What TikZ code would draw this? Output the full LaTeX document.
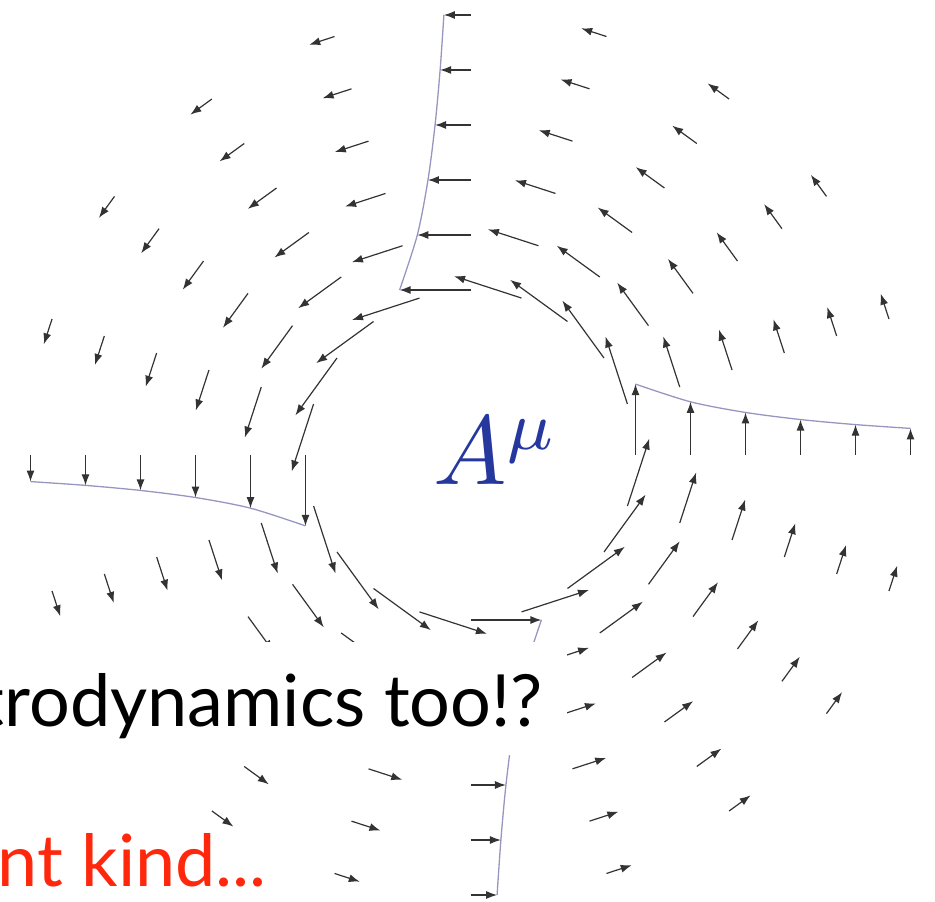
\documentclass[tikz,border=0pt]{standalone}
\usepackage{fontspec}
\setmainfont{Lato}
\usepackage{xcolor}
\usetikzlibrary{arrows.meta,calc}

\definecolor{cutline}{RGB}{150,150,192}
\definecolor{labelblue}{RGB}{38,56,158}
\definecolor{slidered}{RGB}{255,40,12}

\begin{document}
\begin{tikzpicture}[
    x=1pt, y=1pt,
    vec/.style={-{Latex[length=11pt,width=8pt]}, line width=1.2pt, black!80},
    cut/.style={line width=1.3pt, cutline},
    slide/.style={font=\fontsize{72}{86}\selectfont, anchor=base east, inner sep=0pt},
]
\useasboundingbox (0,0) rectangle (935,902);
\clip (0,0) rectangle (935,902);
\coordinate (c) at (470.5,447);

% Field points: 20 columns, each turned 18 degrees
\foreach \i in {0,...,19}
  \foreach \m in {0,...,5} {
    \pgfmathsetmacro\R{165+55*\m}
    \pgfmathsetmacro\L{11700/\R}
    \coordinate (t-\i-\m) at ($(c)+({90-18*\i}:\R)$);
    \coordinate (h-\i-\m) at ($(t-\i-\m)+({180-18*\i}:\L)$);
  }

% Cuts
\foreach \i in {0,5,10,15}
  \draw[cut] plot[smooth] coordinates {(h-\i-0) (h-\i-1) (h-\i-2) (h-\i-3) (h-\i-4) (h-\i-5)};

% Arrows
\foreach \i in {0,...,19}
  \foreach \m in {0,...,5}
    \draw[vec] (t-\i-\m) -- (h-\i-\m);

\node[anchor=base west, inner sep=0pt, text=labelblue] (amu) at (433,417) {\scalebox{9.8}{$A^{\mu}$}};

% Slide text
\fill[white] (0,147) rectangle (567,260);
\node[slide] (line1) at (543,175) {trodynamics too!?};
\node[slide, text=slidered] (line2) at (267,15) {nt kind...};
\end{tikzpicture}
\end{document}
